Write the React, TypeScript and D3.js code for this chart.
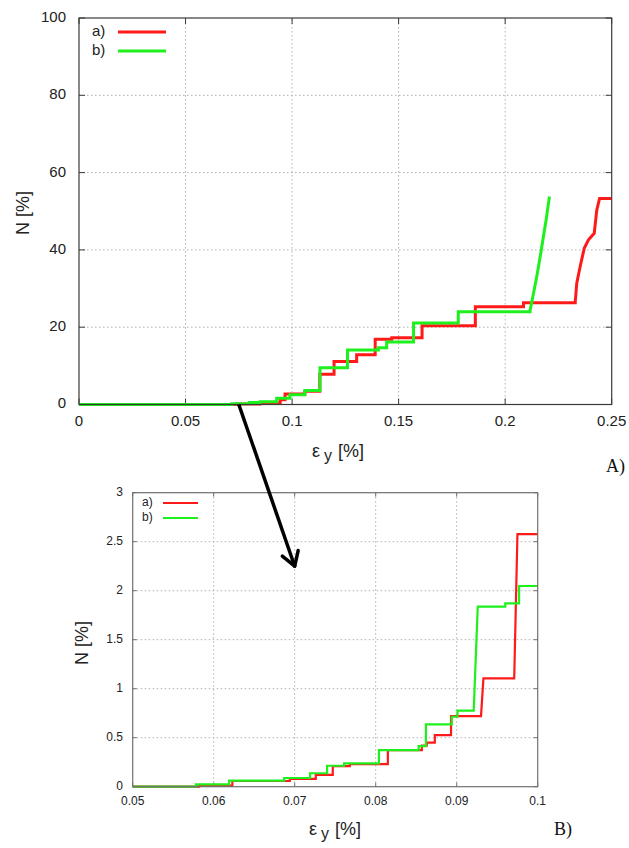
import React, { useEffect, useRef } from 'react';
import * as d3 from 'd3';

// panel A: full range  (ramp = 1 -> joined to previous point by a straight slope instead of a step)
const topRedX = [0, 0.074, 0.085, 0.0944, 0.0967, 0.106, 0.113, 0.1197, 0.1303, 0.139, 0.1468, 0.161, 0.186, 0.2086, 0.2329, 0.2336, 0.2352, 0.2371, 0.2391, 0.2418, 0.243, 0.2443, 0.25];
const topRedY = [0, 0.1, 0.4, 1.2, 2.7, 3.4, 7.8, 11.1, 12.9, 16.9, 17.3, 20.4, 25.3, 26.3, 26.6, 31.4, 35.7, 40.4, 42.6, 44.3, 50.3, 53.3, 53.3];
const topRedRamp = [0, 0, 0, 0, 0, 0, 0, 0, 0, 0, 0, 0, 0, 0, 0, 1, 1, 1, 1, 1, 1, 1, 0];
const topGreenX = [0, 0.0717, 0.08, 0.085, 0.0928, 0.099, 0.106, 0.1131, 0.126, 0.1405, 0.1444, 0.157, 0.178, 0.2117, 0.2125, 0.2133, 0.2142, 0.2151, 0.2162, 0.2172, 0.2182, 0.2192, 0.22, 0.2208];
const topGreenY = [0, 0.2, 0.5, 0.7, 1.6, 2.5, 3.6, 9.5, 14.1, 14.7, 16.2, 21.1, 24.0, 24.4, 26.5, 28.8, 31.3, 33.9, 37.5, 40.8, 44.3, 47.7, 50.8, 53.8];
const topGreenRamp = [0, 0, 0, 0, 0, 0, 0, 0, 0, 0, 0, 0, 0, 0, 1, 1, 1, 1, 1, 1, 1, 1, 1, 1];
const topXTicks = [0, 0.05, 0.1, 0.15, 0.2, 0.25];
const topYTicks = [0, 20, 40, 60, 80, 100];

// panel B: zoom on the start
const botRedX = [0.05, 0.0582, 0.0623, 0.0694, 0.0726, 0.0747, 0.0768, 0.0815, 0.0857, 0.0863, 0.0873, 0.0893, 0.093, 0.0933, 0.0971, 0.0975, 0.1];
const botRedY = [0, 0.01, 0.058, 0.08, 0.12, 0.21, 0.23, 0.374, 0.42, 0.45, 0.527, 0.72, 0.72, 1.106, 1.106, 2.578, 2.578];
const botRedRamp = [0, 0, 0, 0, 0, 0, 0, 0, 0, 0, 0, 0, 0, 1, 0, 1, 0];
const botGreenX = [0.05, 0.0578, 0.0619, 0.0687, 0.0719, 0.074, 0.0761, 0.0804, 0.0853, 0.0862, 0.0894, 0.0901, 0.0921, 0.0926, 0.096, 0.0977, 0.1];
const botGreenY = [0, 0.024, 0.061, 0.089, 0.137, 0.214, 0.238, 0.374, 0.415, 0.636, 0.714, 0.776, 0.776, 1.837, 1.871, 2.048, 2.048];
const botGreenRamp = [0, 0, 0, 0, 0, 0, 0, 0, 0, 0, 0, 0, 0, 1, 0, 0, 0];
const botXTicks = [0.05, 0.06, 0.07, 0.08, 0.09, 0.1];
const botYTicks = [0, 0.5, 1, 1.5, 2, 2.5, 3];

const seriesNames = ['a)', 'b)'];
const RED = '#ff1a1a';
const GREEN = '#1ef01e';
const FONT = 'Liberation Sans, Arial, sans-serif';

// step-after vertices, except where ramp says to go straight
function vertices(xs, ys, ramp) {
    const out = [[xs[0], ys[0]]];
    for (let i = 1; i < xs.length; i++) {
        if (!ramp[i]) out.push([xs[i], ys[i - 1]]);
        out.push([xs[i], ys[i]]);
    }
    return out;
}

function drawPanel(svg, p) {
    const x = d3.scaleLinear().domain(p.xDomain).range(p.xRange);
    const y = d3.scaleLinear().domain(p.yDomain).range(p.yRange);
    const g = svg.append('g');
    const [x0, x1] = p.xRange;
    const [y0, y1] = p.yRange;

    // dotted grid
    g.selectAll('.vg').data(p.xTicks.slice(1, -1)).enter().append('line')
        .attr('x1', d => x(d)).attr('x2', d => x(d)).attr('y1', y0).attr('y2', y1)
        .attr('stroke', '#b0b0b0').attr('stroke-width', 1).attr('stroke-dasharray', '1.5,2.5');
    g.selectAll('.hg').data(p.yTicks.slice(1, -1)).enter().append('line')
        .attr('y1', d => y(d)).attr('y2', d => y(d)).attr('x1', x0).attr('x2', x1)
        .attr('stroke', '#b0b0b0').attr('stroke-width', 1).attr('stroke-dasharray', '1.5,2.5');

    // ticks on all four sides, inward
    const t = p.tickLen;
    p.xTicks.forEach(d => {
        g.append('line').attr('x1', x(d)).attr('x2', x(d)).attr('y1', y0).attr('y2', y0 - t).attr('stroke', p.frame);
        g.append('line').attr('x1', x(d)).attr('x2', x(d)).attr('y1', y1).attr('y2', y1 + t).attr('stroke', p.frame);
    });
    p.yTicks.forEach(d => {
        g.append('line').attr('y1', y(d)).attr('y2', y(d)).attr('x1', x0).attr('x2', x0 + t).attr('stroke', p.frame);
        g.append('line').attr('y1', y(d)).attr('y2', y(d)).attr('x1', x1).attr('x2', x1 - t).attr('stroke', p.frame);
    });

    // tick labels
    g.selectAll('.xl').data(p.xTicks).enter().append('text')
        .attr('x', d => x(d)).attr('y', p.xLabelY)
        .attr('text-anchor', 'middle').attr('dominant-baseline', 'middle')
        .attr('font-family', FONT).attr('font-size', p.tickFont).attr('fill', '#222')
        .text(d => String(+d.toFixed(2)));
    g.selectAll('.yl').data(p.yTicks).enter().append('text')
        .attr('x', p.yLabelX).attr('y', d => y(d))
        .attr('text-anchor', 'end').attr('dominant-baseline', 'middle')
        .attr('font-family', FONT).attr('font-size', p.tickFont).attr('fill', '#222')
        .text(d => String(+d.toFixed(2)));

    // curves
    const line = d3.line().x(d => x(d[0])).y(d => y(d[1]));
    p.series.forEach(s => {
        g.append('path').datum(vertices(s.xs, s.ys, s.ramp)).attr('d', line)
            .attr('fill', 'none').attr('stroke', s.color).attr('stroke-width', p.lineWidth)
            .attr('stroke-linejoin', 'miter');
    });

    // frame
    g.append('rect').attr('x', x0).attr('y', y1).attr('width', x1 - x0).attr('height', y0 - y1)
        .attr('fill', 'none').attr('stroke', p.frame).attr('stroke-width', 1.2);

    // legend
    p.series.forEach((s, i) => {
        const ly = p.legend.y + i * p.legend.dy;
        g.append('text').attr('x', p.legend.textX).attr('y', ly)
            .attr('dominant-baseline', 'middle').attr('font-family', FONT)
            .attr('font-size', p.legend.font).attr('fill', '#222').text(seriesNames[i]);
        g.append('line').attr('x1', p.legend.lx1).attr('x2', p.legend.lx2).attr('y1', ly).attr('y2', ly)
            .attr('stroke', s.color).attr('stroke-width', p.lineWidth);
    });

    // axis titles
    const xt = g.append('text').attr('x', p.xTitle[0]).attr('y', p.xTitle[1])
        .attr('font-family', FONT).attr('font-size', 18).attr('fill', '#222');
    xt.append('tspan').text('ε');
    xt.append('tspan').attr('dx', 4).attr('dy', 4).attr('font-size', 16).text('y');
    xt.append('tspan').attr('dx', 6).attr('dy', -4).text('[%]');

    g.append('text').attr('transform', `translate(${p.yTitle[0]},${p.yTitle[1]}) rotate(-90)`)
        .attr('text-anchor', 'middle').attr('dominant-baseline', 'middle')
        .attr('font-family', FONT).attr('font-size', 18).attr('fill', '#222').text('N [%]');

    g.append('text').attr('x', p.tag[0]).attr('y', p.tag[1])
        .attr('font-family', 'Liberation Serif, Times New Roman, serif').attr('font-size', 18)
        .attr('fill', '#111').text(p.tag[2]);

    return { x, y };
}

export default function App() {
    const ref = useRef(null);

    useEffect(() => {
        const svg = d3.select(ref.current);
        svg.selectAll('*').remove();

        const A = drawPanel(svg, {
            xDomain: [0, 0.25], xRange: [79, 611.7],
            yDomain: [0, 100], yRange: [404.5, 18],
            xTicks: topXTicks, yTicks: topYTicks,
            tickLen: 6, tickFont: 15, xLabelY: 422, yLabelX: 66,
            frame: '#3a3a3a', lineWidth: 3,
            series: [
                { xs: topRedX, ys: topRedY, ramp: topRedRamp, color: RED },
                { xs: topGreenX, ys: topGreenY, ramp: topGreenRamp, color: GREEN },
            ],
            legend: { y: 32, dy: 19, textX: 92, lx1: 118, lx2: 166, font: 15 },
            xTitle: [312, 457], yTitle: [24, 213], tag: [606, 472, 'A)'],
        });

        const B = drawPanel(svg, {
            xDomain: [0.05, 0.1], xRange: [132.7, 537.7],
            yDomain: [0, 3], yRange: [786.7, 492.7],
            xTicks: botXTicks, yTicks: botYTicks,
            tickLen: 4, tickFont: 12, xLabelY: 802, yLabelX: 123,
            frame: '#707070', lineWidth: 2.2,
            series: [
                { xs: botRedX, ys: botRedY, ramp: botRedRamp, color: RED },
                { xs: botGreenX, ys: botGreenY, ramp: botGreenRamp, color: GREEN },
            ],
            legend: { y: 503, dy: 15, textX: 142, lx1: 163, lx2: 198, font: 12 },
            xTitle: [309, 835], yTitle: [83, 643], tag: [554, 835, 'B)'],
        });

        // zoom arrow from panel A to panel B
        const sx = A.x(0.075), sy = A.y(0);
        const ex = B.x(0.07), ey = B.y(2.25);
        svg.append('line').attr('x1', sx).attr('y1', sy).attr('x2', ex).attr('y2', ey)
            .attr('stroke', '#000').attr('stroke-width', 3.5);
        const ang = Math.atan2(sy - ey, sx - ex);
        [-0.55, 0.55].forEach(da => {
            svg.append('line').attr('x1', ex).attr('y1', ey)
                .attr('x2', ex + 16 * Math.cos(ang + da)).attr('y2', ey + 16 * Math.sin(ang + da))
                .attr('stroke', '#000').attr('stroke-width', 3.5).attr('stroke-linecap', 'round');
        });
    }, []);

    return (
        <svg ref={ref} width={629} height={848}
            style={{ position: 'absolute', left: 0, top: 0, background: '#fff' }} />
    );
}
